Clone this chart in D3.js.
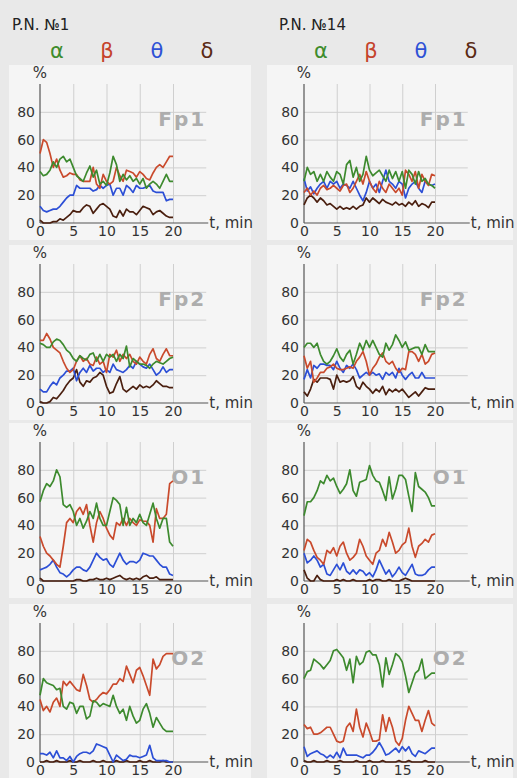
<!DOCTYPE html>
<html>
<head>
<meta charset="utf-8">
<script src="https://cdn.jsdelivr.net/npm/d3@7"></script>
<style>
  html, body { margin: 0; padding: 0; background: #e9e9e9; }
  svg { display: block; }
  text { font-family: "DejaVu Sans", Verdana, sans-serif; }
</style>
</head>
<body>
<svg id="chart" width="517" height="778"></svg>
<script>
// time, min
const minutes = [0, 0.5, 1, 1.5, 2, 2.5, 3, 3.5, 4, 4.5, 5, 5.5, 6, 6.5, 7, 7.5, 8, 8.5, 9, 9.5, 10,
  10.5, 11, 11.5, 12, 12.5, 13, 13.5, 14, 14.5, 15, 15.5, 16, 16.5, 17, 17.5, 18, 18.5, 19, 19.5, 20]

const subjects = ['P.N. №1', 'P.N. №14']
const leads = ['Fp1', 'Fp2', 'O1', 'O2']
const bands = ['α', 'β', 'θ', 'δ']
const yTicks = [0, 20, 40, 60, 80]
const xTicks = [0, 5, 10, 15, 20]

// P.N. №1
const p1Fp1Alpha = [37, 34, 35, 38, 44, 40, 46, 48, 44, 46, 40, 34, 32, 30, 36, 41, 33, 38, 28, 30, 27, 36, 48, 42, 30, 35, 31, 34, 30, 32, 28, 32, 25, 28, 30, 28, 25, 30, 35, 30, 30]
const p1Fp1Beta = [50, 60, 58, 50, 40, 46, 38, 33, 34, 36, 35, 35, 31, 30, 30, 30, 40, 28, 25, 35, 30, 28, 30, 40, 34, 30, 38, 37, 36, 33, 37, 35, 32, 31, 36, 40, 42, 40, 44, 48, 48]
const p1Fp1Theta = [12, 9, 8, 9, 10, 10, 12, 15, 18, 20, 20, 27, 25, 25, 25, 25, 23, 24, 27, 25, 27, 28, 20, 25, 25, 20, 27, 25, 22, 27, 25, 25, 26, 27, 23, 22, 22, 22, 16, 17, 17]
const p1Fp1Delta = [2, 0, 0, 0, 1, 1, 3, 2, 4, 6, 9, 8, 8, 11, 13, 12, 7, 10, 13, 14, 12, 10, 5, 4, 9, 5, 10, 8, 8, 6, 9, 12, 11, 10, 6, 8, 9, 7, 5, 4, 4]

const p1Fp2Alpha = [43, 42, 40, 40, 44, 46, 45, 42, 38, 36, 32, 30, 34, 32, 31, 35, 36, 30, 35, 30, 35, 33, 35, 30, 35, 32, 41, 26, 32, 30, 28, 28, 27, 25, 28, 30, 29, 28, 30, 32, 33]
const p1Fp2Beta = [45, 45, 50, 46, 40, 38, 36, 30, 25, 22, 24, 30, 34, 30, 32, 28, 27, 33, 28, 30, 22, 35, 33, 38, 30, 35, 32, 35, 30, 28, 33, 30, 28, 35, 39, 32, 30, 35, 39, 34, 34]
const p1Fp2Theta = [10, 8, 8, 12, 15, 13, 18, 20, 23, 23, 25, 16, 22, 25, 22, 27, 23, 25, 25, 22, 24, 22, 28, 24, 23, 22, 24, 27, 25, 30, 28, 26, 25, 28, 24, 20, 22, 26, 22, 24, 24]
const p1Fp2Delta = [1, 0, 0, 1, 4, 3, 6, 9, 13, 16, 18, 24, 15, 12, 16, 15, 18, 19, 22, 20, 12, 7, 8, 14, 19, 10, 8, 10, 12, 10, 13, 11, 12, 11, 13, 16, 14, 12, 12, 11, 11]

const p1O1Alpha = [57, 65, 70, 68, 72, 80, 75, 55, 53, 55, 50, 40, 45, 38, 43, 50, 45, 56, 45, 40, 40, 50, 60, 58, 55, 40, 53, 40, 45, 42, 48, 42, 40, 48, 56, 45, 38, 45, 45, 28, 25]
const p1O1Beta = [32, 25, 20, 18, 15, 12, 10, 25, 42, 45, 42, 50, 53, 48, 55, 40, 28, 42, 50, 45, 38, 33, 30, 42, 40, 45, 40, 45, 42, 40, 44, 43, 43, 40, 28, 52, 45, 45, 48, 70, 72]
const p1O1Theta = [8, 9, 10, 12, 15, 10, 6, 5, 3, 5, 8, 10, 10, 8, 7, 10, 15, 20, 17, 15, 16, 12, 10, 15, 20, 15, 12, 14, 14, 13, 15, 20, 19, 18, 18, 15, 12, 10, 10, 5, 4]
const p1O1Delta = [2, 0, 0, 0, 0, 0, 0, 0, 0, 0, 0, 1, 1, 0, 0, 1, 1, 2, 1, 1, 2, 1, 2, 3, 4, 2, 1, 2, 1, 2, 1, 3, 4, 2, 2, 3, 1, 1, 1, 1, 1]

const p1O2Alpha = [48, 60, 57, 56, 55, 52, 53, 40, 38, 43, 42, 35, 40, 40, 31, 33, 44, 43, 40, 42, 41, 40, 48, 40, 35, 38, 30, 40, 33, 28, 30, 38, 42, 35, 25, 32, 28, 24, 22, 22, 22]
const p1O2Beta = [45, 37, 40, 36, 43, 46, 40, 58, 55, 58, 55, 52, 51, 63, 55, 45, 43, 45, 48, 50, 49, 52, 56, 56, 60, 58, 69, 63, 57, 66, 68, 62, 55, 48, 74, 67, 70, 76, 78, 78, 78]
const p1O2Theta = [6, 6, 5, 7, 3, 8, 3, 3, 1, 4, 0, 4, 6, 7, 7, 6, 8, 13, 12, 11, 10, 5, 0, 5, 3, 1, 2, 5, 4, 4, 3, 4, 5, 12, 3, 1, 1, 1, 1, 0, 0]
const p1O2Delta = [0, 0, 1, 0, 0, 1, 0, 0, 0, 1, 0, 0, 1, 0, 0, 0, 1, 0, 0, 1, 0, 0, 0, 1, 0, 0, 1, 0, 0, 0, 1, 0, 0, 1, 0, 0, 0, 1, 0, 0, 0]

// P.N. №14
const p14Fp1Alpha = [30, 40, 35, 37, 30, 35, 30, 37, 33, 30, 37, 35, 28, 42, 45, 33, 40, 30, 35, 48, 38, 34, 36, 38, 34, 30, 38, 32, 37, 30, 37, 25, 38, 35, 28, 37, 30, 32, 28, 27, 25]
const p14Fp1Beta = [22, 25, 20, 23, 20, 25, 27, 24, 25, 27, 25, 23, 27, 28, 22, 25, 30, 35, 28, 37, 30, 25, 22, 30, 25, 22, 28, 25, 22, 25, 20, 38, 35, 30, 37, 25, 35, 30, 27, 35, 34]
const p14Fp1Theta = [32, 23, 26, 21, 25, 28, 30, 25, 30, 28, 30, 25, 28, 27, 25, 30, 25, 20, 16, 22, 30, 25, 28, 22, 30, 38, 30, 28, 25, 30, 28, 18, 25, 28, 30, 25, 22, 30, 28, 27, 28]
const p14Fp1Delta = [13, 18, 20, 18, 15, 18, 16, 13, 14, 12, 10, 12, 10, 11, 10, 12, 10, 12, 13, 18, 15, 18, 16, 14, 17, 15, 14, 13, 15, 13, 14, 12, 15, 13, 16, 12, 14, 13, 11, 15, 15]

const p14Fp2Alpha = [40, 43, 43, 40, 43, 35, 30, 28, 30, 34, 39, 33, 30, 35, 38, 28, 35, 43, 38, 45, 40, 45, 40, 35, 33, 43, 38, 42, 49, 45, 40, 44, 38, 39, 40, 40, 35, 42, 37, 37, 37]
const p14Fp2Beta = [34, 25, 30, 15, 18, 22, 22, 25, 26, 28, 25, 24, 24, 25, 26, 25, 30, 33, 37, 30, 20, 25, 28, 33, 36, 30, 28, 30, 25, 22, 25, 24, 37, 37, 35, 30, 35, 28, 30, 35, 36]
const p14Fp2Theta = [17, 24, 18, 27, 25, 28, 28, 27, 27, 24, 30, 25, 22, 27, 25, 28, 24, 18, 20, 22, 20, 22, 20, 21, 17, 22, 20, 22, 18, 25, 20, 17, 20, 22, 18, 18, 22, 18, 18, 18, 18]
const p14Fp2Delta = [8, 5, 10, 17, 15, 18, 18, 18, 17, 10, 20, 15, 16, 15, 16, 19, 12, 10, 15, 12, 10, 7, 10, 8, 12, 6, 10, 8, 10, 8, 10, 7, 4, 6, 8, 5, 8, 11, 10, 10, 10]

const p14O1Alpha = [47, 57, 57, 60, 65, 72, 70, 76, 72, 74, 68, 63, 66, 70, 80, 65, 61, 71, 72, 73, 83, 76, 72, 71, 65, 58, 75, 59, 66, 76, 76, 73, 61, 50, 78, 68, 66, 64, 60, 54, 54]
const p14O1Beta = [22, 30, 28, 22, 17, 15, 12, 22, 20, 24, 18, 25, 28, 20, 15, 17, 20, 30, 25, 18, 15, 12, 20, 22, 30, 25, 35, 28, 20, 22, 26, 28, 38, 25, 17, 25, 27, 30, 28, 33, 34]
const p14O1Theta = [20, 13, 15, 18, 15, 10, 12, 5, 4, 8, 12, 8, 13, 7, 5, 8, 5, 8, 7, 4, 6, 3, 8, 15, 10, 5, 8, 3, 6, 10, 6, 4, 8, 12, 5, 4, 4, 5, 8, 10, 10]
const p14O1Delta = [8, 2, 0, 0, 4, 1, 0, 0, 0, 0, 1, 0, 1, 0, 0, 1, 0, 0, 0, 0, 1, 0, 1, 1, 0, 0, 1, 0, 0, 0, 1, 2, 1, 0, 0, 0, 0, 0, 0, 0, 0]

const p14O2Alpha = [60, 65, 66, 74, 72, 70, 67, 70, 73, 80, 81, 78, 75, 66, 74, 57, 76, 70, 72, 79, 80, 77, 77, 70, 54, 75, 63, 70, 78, 76, 72, 62, 50, 57, 64, 66, 74, 60, 62, 64, 64]
const p14O2Beta = [27, 24, 25, 20, 20, 21, 23, 25, 25, 20, 15, 14, 15, 25, 28, 22, 38, 25, 18, 28, 22, 15, 15, 16, 34, 22, 32, 25, 15, 12, 17, 30, 40, 35, 30, 30, 22, 30, 37, 28, 26]
const p14O2Theta = [11, 4, 6, 7, 8, 6, 5, 3, 5, 3, 7, 3, 10, 5, 5, 5, 5, 4, 3, 5, 5, 7, 10, 14, 10, 5, 6, 8, 10, 7, 11, 8, 11, 6, 4, 8, 7, 6, 8, 10, 10]
const p14O2Delta = [1, 0, 0, 1, 0, 0, 0, 1, 0, 0, 0, 1, 0, 0, 0, 0, 1, 0, 0, 0, 1, 0, 0, 0, 1, 0, 0, 0, 0, 1, 0, 0, 1, 0, 0, 0, 0, 1, 0, 0, 0]

const panels = [
  [[p1Fp1Alpha, p1Fp1Beta, p1Fp1Theta, p1Fp1Delta],
    [p1Fp2Alpha, p1Fp2Beta, p1Fp2Theta, p1Fp2Delta],
    [p1O1Alpha, p1O1Beta, p1O1Theta, p1O1Delta],
    [p1O2Alpha, p1O2Beta, p1O2Theta, p1O2Delta]],
  [[p14Fp1Alpha, p14Fp1Beta, p14Fp1Theta, p14Fp1Delta],
    [p14Fp2Alpha, p14Fp2Beta, p14Fp2Theta, p14Fp2Delta],
    [p14O1Alpha, p14O1Beta, p14O1Theta, p14O1Delta],
    [p14O2Alpha, p14O2Beta, p14O2Theta, p14O2Delta]]
]

const bandColors = ['#3f8c2c', '#c5432b', '#2f52d6', '#5a2a14']
const lineColors = ['#3d8a2e', '#c94a2c', '#2c4fd6', '#4a1f0f']

const svg = d3.select('#chart')

// column geometry: x of t=0, px per minute, panel box
const cols = [
  { x0: 40, pxMin: 6.65, boxX: 9, boxW: 242, headX: 12, bandX: [57, 107, 157, 207] },
  { x0: 304, pxMin: 6.55, boxX: 267, boxW: 246, headX: 279, bandX: [321, 371, 421, 471] }
]
const rowZero = [223, 403, 581, 762]

cols.forEach((c, ci) => {
  // header
  svg.append('text')
    .attr('x', c.headX).attr('y', 30)
    .attr('font-size', 15).attr('fill', '#222')
    .text(subjects[ci])
  svg.selectAll(null)
    .data(bands)
    .join('text')
    .attr('x', (d, i) => c.bandX[i]).attr('y', 58)
    .attr('text-anchor', 'middle')
    .attr('font-size', 21)
    .attr('fill', (d, i) => bandColors[i])
    .text(d => d)

  rowZero.forEach((y0, ri) => {
    const x = d3.scaleLinear().domain([0, 25]).range([c.x0, c.x0 + 25 * c.pxMin])
    const y = d3.scaleLinear().domain([0, 100]).range([y0, y0 - 139])
    const g = svg.append('g')

    // panel background
    g.append('rect')
      .attr('x', c.boxX).attr('y', y0 - 158)
      .attr('width', c.boxW).attr('height', ri === 3 ? 778 - (y0 - 158) : 175)
      .attr('fill', '#f5f5f5')

    // grid
    g.append('g')
      .attr('transform', `translate(${x(0)},0)`)
      .call(d3.axisLeft(y).tickValues(yTicks).tickSize(-(x(25) - x(0))).tickPadding(5).tickFormat(d3.format('d')))
      .call(s => s.select('.domain').remove())
      .call(s => s.selectAll('.tick line').attr('stroke', '#cfcfcf').attr('stroke-width', 1)
        .attr('display', d => d === 0 ? 'none' : null))
      .call(s => s.selectAll('.tick text').attr('font-size', 14).attr('fill', '#333')
        .attr('font-family', '"DejaVu Sans", sans-serif'))
    g.append('g')
      .attr('transform', `translate(0,${y0})`)
      .call(d3.axisBottom(x).tickValues(xTicks).tickSize(-(y0 - y(100))).tickPadding(3).tickFormat(d3.format('d')))
      .call(s => s.select('.domain').remove())
      .call(s => s.selectAll('.tick line').attr('stroke', '#cfcfcf').attr('stroke-width', 1)
        .attr('display', d => d === 0 ? 'none' : null))
      .call(s => s.selectAll('.tick text').attr('font-size', 14).attr('fill', '#333')
        .attr('font-family', '"DejaVu Sans", sans-serif'))

    // lead name
    g.append('text')
      .attr('x', x(25)).attr('y', y(70))
      .attr('text-anchor', 'end')
      .attr('font-size', 20).attr('font-weight', 'bold')
      .attr('letter-spacing', 2)
      .attr('fill', '#adadad')
      .text(leads[ri])

    // axis lines
    g.append('line')
      .attr('x1', x(0)).attr('x2', x(0)).attr('y1', y0).attr('y2', y(100))
      .attr('stroke', '#555').attr('stroke-width', 1.2)
    g.append('line')
      .attr('x1', x(0)).attr('x2', x(25) + 2).attr('y1', y0).attr('y2', y0)
      .attr('stroke', '#555').attr('stroke-width', 1.2)
    g.append('text')
      .attr('x', x(0)).attr('y', y(100) - 6)
      .attr('text-anchor', 'middle').attr('font-size', 15).attr('fill', '#333')
      .text('%')
    g.append('text')
      .attr('x', x(25) + 3).attr('y', y0 + 5)
      .attr('font-size', 15).attr('fill', '#333')
      .text('t, min')

    // series
    const line = d3.line()
      .x((d, i) => x(minutes[i]))
      .y(d => y(d))
    g.selectAll('path.series')
      .data(panels[ci][ri].slice().reverse())
      .join('path')
      .attr('class', 'series')
      .attr('d', line)
      .attr('fill', 'none')
      .attr('stroke', (d, i) => lineColors[3 - i])
      .attr('stroke-width', 1.7)
      .attr('stroke-linejoin', 'round')
  })
})
</script>
</body>
</html>
